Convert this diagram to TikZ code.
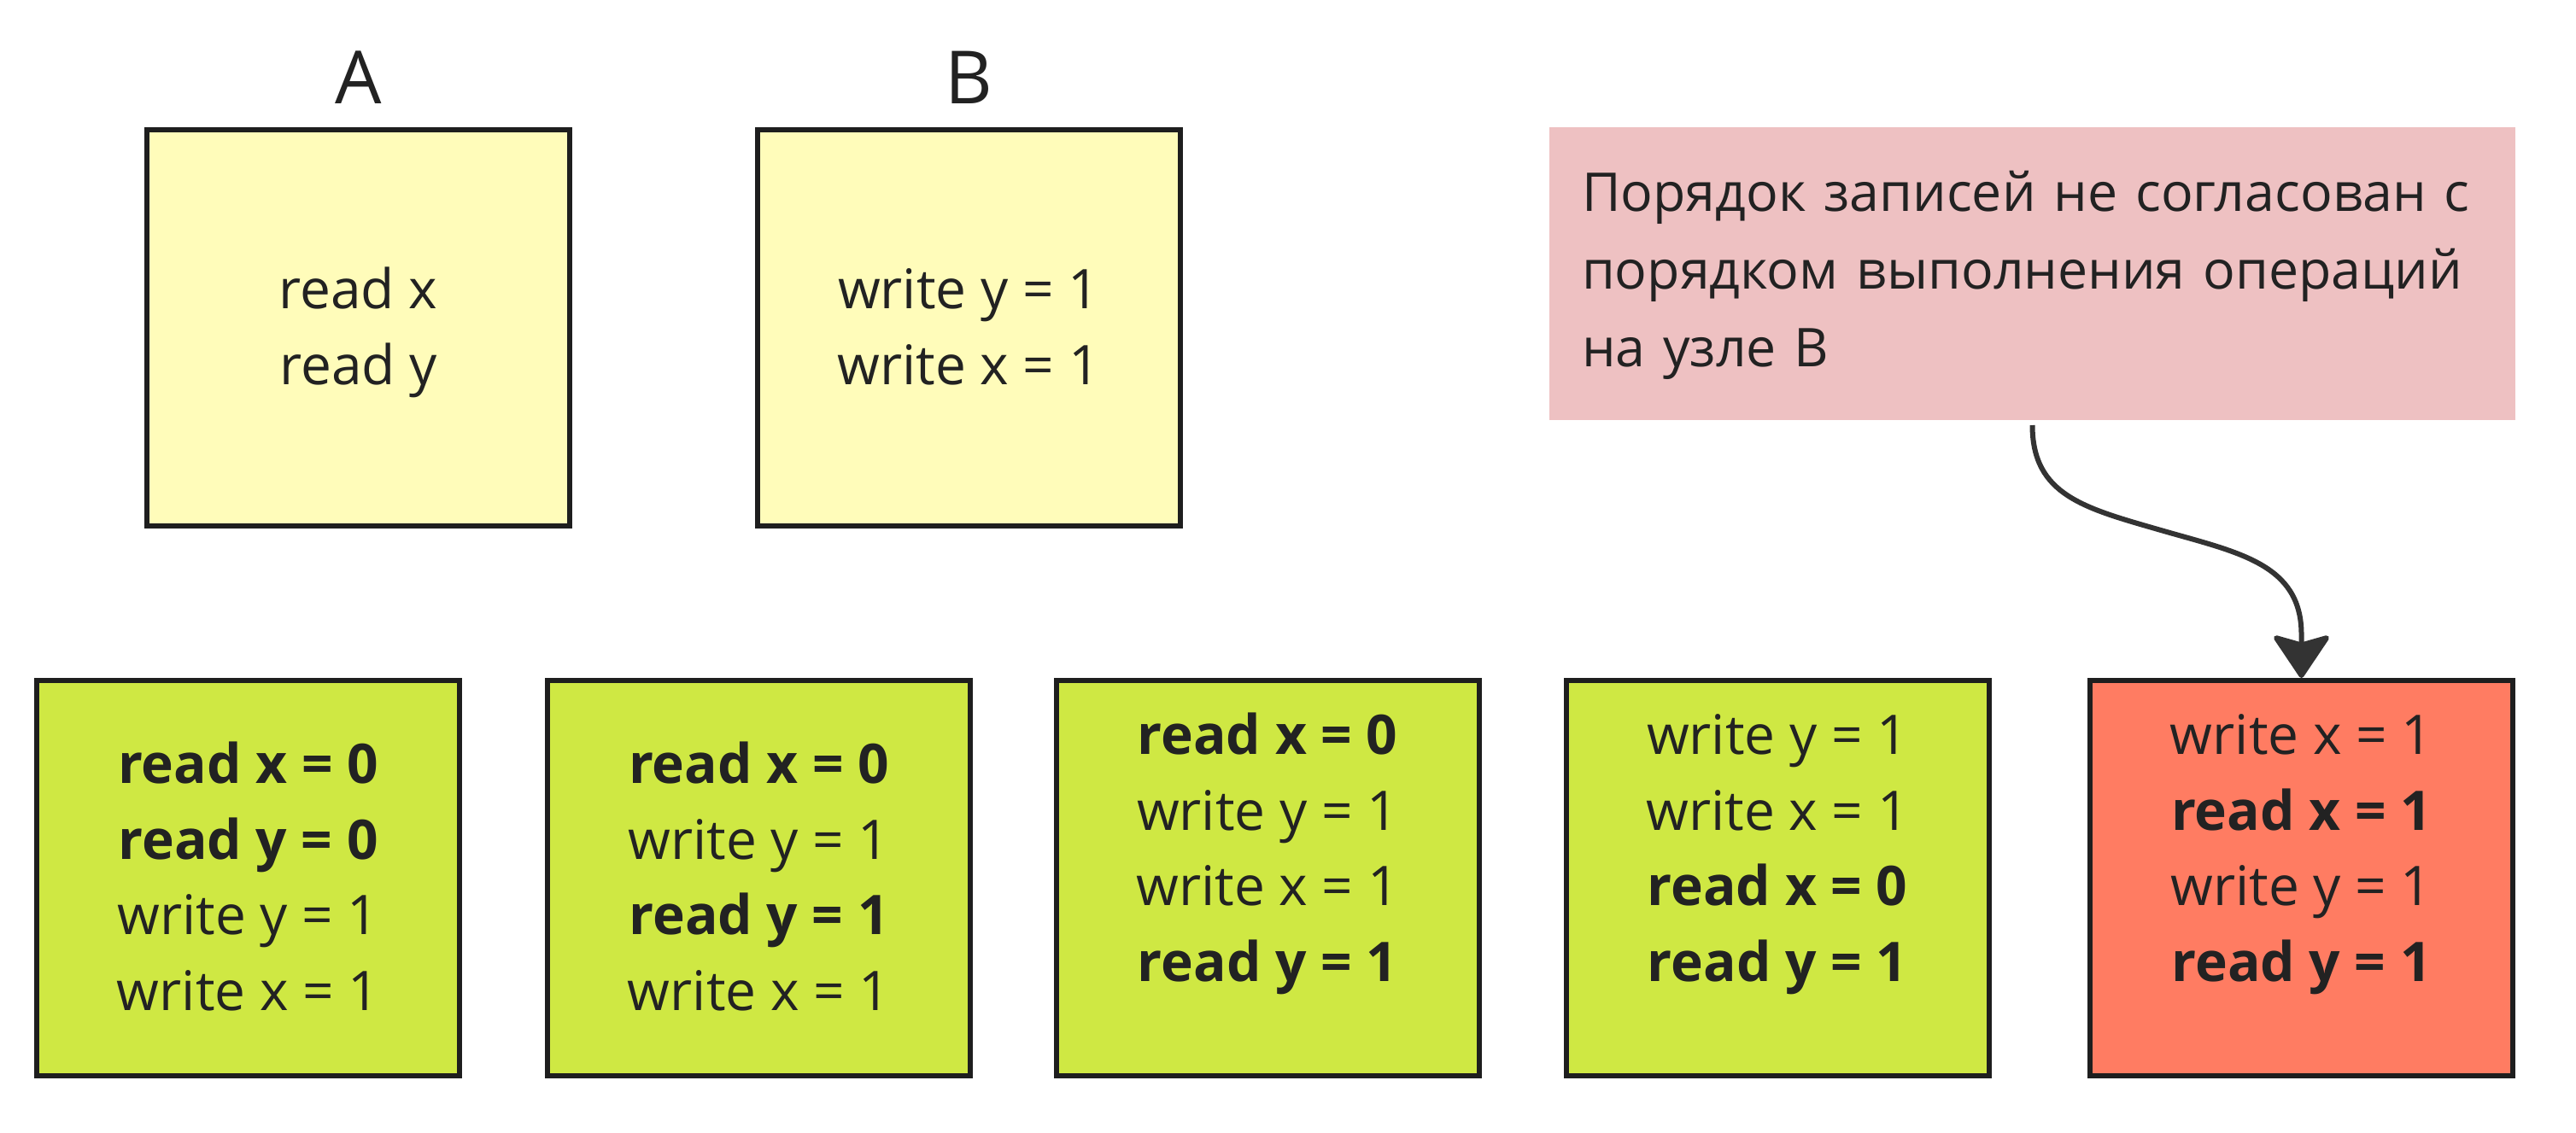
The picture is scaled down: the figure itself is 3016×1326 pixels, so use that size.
\documentclass[tikz,border=0pt]{standalone}
\usepackage{fontspec}
\setmainfont{Open Sans}
\usetikzlibrary{arrows.meta}
\definecolor{txt}{HTML}{222222}
\definecolor{edge}{HTML}{1E1E1E}
\definecolor{yel}{HTML}{FFFCBA}
\definecolor{grn}{HTML}{CFE843}
\definecolor{sal}{HTML}{FF7C62}
\definecolor{pnk}{HTML}{EEC1C2}
\definecolor{arr}{HTML}{333333}
\newcommand\ls{\rule[-18.7pt]{0pt}{81.4pt}}
\newcommand\lsb{\rule[-86.7pt]{0pt}{149.4pt}}
\newcommand\ns{\rule[-15pt]{0pt}{66pt}}
\tikzset{
  opbox/.style={draw=edge, line width=6pt, minimum width=495pt, inner sep=0pt,
    align=center, text=txt, font=\fontsize{64pt}{88.5pt}\selectfont},
  topbox/.style={opbox, fill=yel, minimum height=464pt},
  okbox/.style={opbox, fill=grn, minimum height=463pt},
  badbox/.style={opbox, fill=sal, minimum height=463pt},
  colname/.style={text=txt, font=\fontsize{86pt}{100pt}\selectfont, anchor=base, inner sep=0pt},
  notebox/.style={fill=pnk, inner xsep=38pt, inner ysep=0pt, text width=1055pt, align=left,
    minimum height=343pt, text=txt, font=\fontsize{62.6pt}{91pt}\selectfont},
  link/.style={draw=arr, line width=6pt,
    -{Stealth[length=54pt, width=72pt, inset=10pt, round]}}
}
\begin{document}
\begin{tikzpicture}[x=1pt, y=-1pt]
\useasboundingbox (0,0) rectangle (3016,1326);
% top nodes
\node[topbox] (A) at (419.5,384) {\ls read x\\\ls read y};
\node[topbox] (B) at (1134,384) {\ls write y = 1\\\ls write x = 1};
\node[colname] (Alab) at (419.5,121) {A};
\node[colname] (Blab) at (1134,121) {B};
% note
\node[notebox] (note) at (2379.5,320.5) {\ns\mbox{Порядок записей не согласован с}\\\ns\mbox{порядком выполнения операций}\\\ns\mbox{на узле B}};
% bottom nodes
\node[okbox] (o1) at (290.5,1028.5) {\ls\textbf{read x = 0}\\\ls\textbf{read y = 0}\\\ls write y = 1\\\ls write x = 1};
\node[okbox] (o2) at (888.5,1028.5) {\ls\textbf{read x = 0}\\\ls write y = 1\\\ls\textbf{read y = 1}\\\ls write x = 1};
\node[okbox] (o3) at (1484,1028.5) {\ls\textbf{read x = 0}\\\ls write y = 1\\\ls write x = 1\\\lsb\textbf{read y = 1}};
\node[okbox] (o4) at (2081,1028.5) {\ls write y = 1\\\ls write x = 1\\\ls\textbf{read x = 0}\\\lsb\textbf{read y = 1}};
\node[badbox] (bad) at (2694.5,1028.5) {\ls write x = 1\\\ls\textbf{read x = 1}\\\ls write y = 1\\\lsb\textbf{read y = 1}};
% connector
\coordinate (start) at (2379.5,498);
\coordinate (mid) at (2530,621);
\coordinate (low) at (2694.5,743);
\draw[link] (start) .. controls (2379.5,580) and (2440,595) .. (mid)
  .. controls (2620,647) and (2694.5,660) .. (low) -- (bad.north);
\end{tikzpicture}
\end{document}
